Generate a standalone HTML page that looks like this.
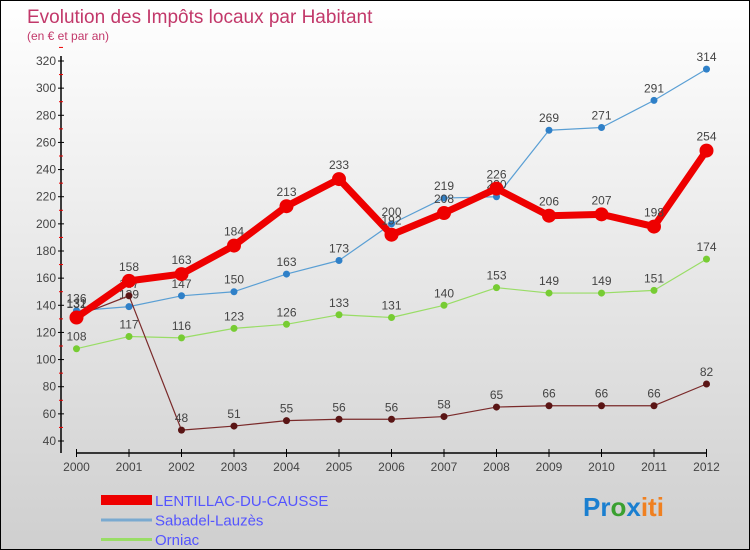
<!DOCTYPE html>
<html><head><meta charset="utf-8"><style>
body{margin:0}
#c{width:750px;height:550px;position:relative;overflow:hidden;box-sizing:border-box;border:1px solid #000;background:linear-gradient(#fff,#cfcfcf);font-family:"Liberation Sans",sans-serif}
</style></head><body>
<div id="c">
<svg id="s" width="748" height="548" style="position:absolute;left:0;top:0" font-family="Liberation Sans, sans-serif">
<text x="26" y="22" font-size="19" fill="#c2386a">Evolution des Impôts locaux par Habitant</text>
<text x="26" y="39" font-size="12" fill="#c2386a">(en € et par an)</text>
<g id="axes"></g><g id="series"></g>
<g id="legend" font-size="15" fill="#5555ff"></g>
<text x="582" y="515" font-size="26" font-weight="bold"><tspan fill="#1a7fd0">Pr</tspan><tspan fill="#3aa030">o</tspan><tspan fill="#1a7fd0">x</tspan><tspan fill="#f08020">iti</tspan></text>
</svg></div>
<script>
const years=[2000,2001,2002,2003,2004,2005,2006,2007,2008,2009,2010,2011,2012];
const yTicks=[40,60,80,100,120,140,160,180,200,220,240,260,280,300,320];
const lentillac=[131,158,163,184,213,233,192,208,226,206,207,198,254];
const sabadel=[136,139,147,150,163,173,200,219,220,269,271,291,314];
const orniac=[108,117,116,123,126,133,131,140,153,149,149,151,174];
const senaillac=[132,147,48,51,55,56,56,58,65,66,66,66,82];
const names=["LENTILLAC-DU-CAUSSE","Sabadel-Lauzès","Orniac","Sénaillac-Lauzès"];
const NS="http://www.w3.org/2000/svg";
const X=i=>75.5+i*52.5, Y=v=>440-(v-40)*380/280;
function mk(t,a,p){const e=document.createElementNS(NS,t);for(const k in a)e.setAttribute(k,a[k]);p.appendChild(e);return e;}
const ax=document.getElementById('axes');
let l=mk('line',{x1:60,y1:55,x2:60,y2:452,stroke:'#000','stroke-width':1.5},ax);


l=mk('line',{x1:75,y1:452,x2:706,y2:452,stroke:'#000','stroke-width':1.5},ax);


yTicks.forEach(v=>{mk('line',{x1:57,x2:63,y1:Y(v),y2:Y(v),stroke:'#000'},ax);
mk('line',{x1:58,x2:62,y1:Y(v+10),y2:Y(v+10),stroke:'#e00'},ax);
const t=mk('text',{x:55,y:Y(v)+4,'text-anchor':'end','font-size':12,fill:'#444'},ax);t.textContent=v;

});
years.forEach((y,i)=>{mk('line',{x1:X(i),x2:X(i),y1:448,y2:456,stroke:'#000'},ax);
const t=mk('text',{x:X(i),y:470,'text-anchor':'middle','font-size':12,fill:'#444'},ax);t.textContent=y;

});
const sg=document.getElementById('series');
const defs=[[sabadel,'#5a9fd4','#2f80c8',1.2,3.5],[orniac,'#99dd66','#77cc33',1.2,3.5],[senaillac,'#7a2a2a','#5a1515',1.2,3.5],[lentillac,'#ee0000','#ee0000',7,7]];
defs.forEach(([d,c,pc,w,r],k)=>{const g=mk('g',{},sg);


mk('polyline',{points:d.map((v,i)=>X(i)+','+Y(v)).join(' '),fill:'none',stroke:c,'stroke-width':w,'stroke-linejoin':'round'},g);
d.forEach((v,i)=>{const p=mk('circle',{cx:X(i),cy:Y(v),r:r,fill:pc},g);


const t=mk('text',{x:X(i),y:Y(v)-(k==3?10:8),'text-anchor':'middle','font-size':12,fill:'#444'},g);t.textContent=v;

});});
const lg=document.getElementById('legend');
const lc=['#ee0000','#7aaad0','#99dd66','#a06060'];
names.forEach((n,i)=>{const y=499+i*19.5;
mk('rect',{x:100,y:i==0?y-5:y-1,width:51,height:i==0?10:3,fill:lc[i]},lg);
const t=mk('text',{x:154,y:y+6},lg);t.textContent=n;

});
</script>
</body></html>
